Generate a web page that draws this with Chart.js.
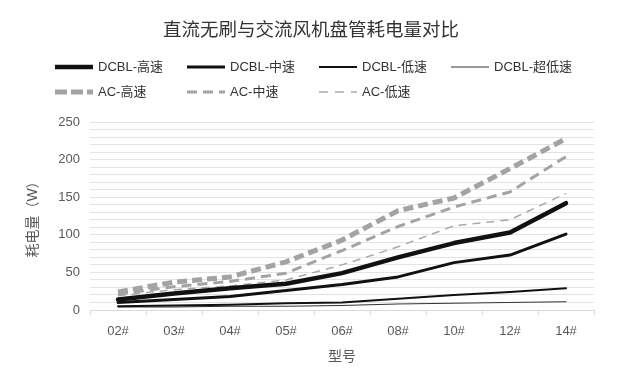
<!DOCTYPE html>
<html>
<head>
<meta charset="utf-8">
<script src="https://cdn.jsdelivr.net/npm/chart.js@4/dist/chart.umd.min.js"></script>
<style>
html,body{margin:0;padding:0;background:#fff;}
#wrap{width:622px;height:384px;position:relative;}
</style>
</head>
<body>
<div id="wrap"><canvas id="c" width="622" height="384"></canvas></div>
<script>
const categories = ["02#","03#","04#","05#","06#","08#","10#","12#","14#"];
const seriesNames = ["DCBL-高速","DCBL-中速","DCBL-低速","DCBL-超低速","AC-高速","AC-中速","AC-低速"];
const dcblHigh = [14, 22, 29, 35, 49, 70, 89, 103, 142];
const dcblMid = [10, 14, 18, 26, 34, 44, 63, 73, 101];
const dcblLow = [5, 6, 7, 9, 10, 15, 20, 24, 29];
const dcblUltraLow = [4, 4, 5, 5, 6, 8, 9, 10, 11];
const acHigh = [24, 37, 44, 64, 93, 132, 149, 188, 228];
const acMid = [21, 31, 38, 49, 79, 111, 137, 157, 204];
const acLow = [19, 27, 32, 40, 60, 84, 112, 120, 155];
const yTickLabels = [0, 50, 100, 150, 200, 250];
const titleText = "直流无刷与交流风机盘管耗电量对比";
const yTitle = "耗电量（W）";
const xTitle = "型号";

const FONT = "'Liberation Sans','Noto Sans CJK SC',sans-serif";
const styles = [
  {c:"#111111", w:4.5, d:[]},
  {c:"#111111", w:3, d:[]},
  {c:"#111111", w:2, d:[]},
  {c:"#333333", w:1, d:[]},
  {c:"#a3a3a3", w:5, d:[10,5]},
  {c:"#a3a3a3", w:3, d:[10,6]},
  {c:"#a8a8a8", w:1.5, d:[8,6]}
];
const allData = [dcblHigh, dcblMid, dcblLow, dcblUltraLow, acHigh, acMid, acLow];

const datasets = allData.map((d,i)=>({
  label: seriesNames[i],
  data: d,
  borderColor: styles[i].c,
  backgroundColor: styles[i].c,
  borderWidth: styles[i].w,
  borderDash: styles[i].d,
  borderCapStyle: i>=4 ? 'butt' : 'round',
  borderJoinStyle: 'round',
  pointRadius: 0,
  tension: 0,
  fill: false
}));

const headerPlugin = {
  id: 'header',
  afterDraw(chart){
    const ctx = chart.ctx;
    ctx.save();
    ctx.fillStyle = '#333333';
    ctx.font = "18.5px " + FONT;
    ctx.textAlign = 'center';
    ctx.textBaseline = 'middle';
    ctx.fillText(titleText, 311, 31);
    chart.data.datasets.forEach((ds,i)=>{
      const row = i<4 ? 0 : 1;
      const col = i<4 ? i : i-4;
      const x0 = 55 + col*132;
      const y = row===0 ? 67 : 92;
      ctx.beginPath();
      ctx.strokeStyle = ds.borderColor;
      ctx.lineWidth = ds.borderWidth;
      ctx.setLineDash(i>=4 ? (i===4?[12,4]:(i===5?[10,6]:[9,7])) : []);
      ctx.lineCap = 'butt';
      ctx.moveTo(x0, y);
      ctx.lineTo(x0+38, y);
      ctx.stroke();
      ctx.setLineDash([]);
      ctx.fillStyle = '#333333';
      ctx.font = "13px " + FONT;
      ctx.textBaseline = 'middle';
      ctx.textAlign = 'left';
      ctx.fillText(ds.label, x0+43, y);
    });
    ctx.restore();
  }
};

new Chart(document.getElementById('c'), {
  type: 'line',
  data: { labels: categories, datasets },
  options: {
    responsive: false,
    animation: false,
    layout: { padding: { left: 0, right: 28, top: 122, bottom: 0 } },
    plugins: {
      legend: { display: false },
      tooltip: { enabled: false },
      title: { display: false }
    },
    scales: {
      x: {
        offset: true,
        afterFit(s){ s.height = 74; },
        grid: { display: true, drawOnChartArea: false, offset: true, tickLength: 5, color: '#d9d9d9' },
        border: { display: true, color: '#d9d9d9' },
        ticks: { color: '#595959', font: { size: 13, family: FONT }, padding: 9 },
        title: { display: true, text: xTitle, color: '#595959', font: { size: 14, family: FONT }, padding: { top: 0, bottom: 18.6 } }
      },
      y: {
        min: 0, max: 250,
        afterFit(s){ s.width = 90; },
        grid: { color: '#e3e3e3', drawTicks: false },
        border: { display: false },
        ticks: {
          stepSize: 10,
          autoSkip: false,
          color: '#595959',
          font: { size: 13, family: FONT },
          padding: 10,
          callback: (v)=> yTickLabels.includes(v) ? String(v) : ''
        },
        title: { display: true, text: yTitle, color: '#595959', font: { size: 14, family: FONT }, padding: { top: 25, bottom: 0 } }
      }
    }
  },
  plugins: [headerPlugin]
});
</script>
</body>
</html>
